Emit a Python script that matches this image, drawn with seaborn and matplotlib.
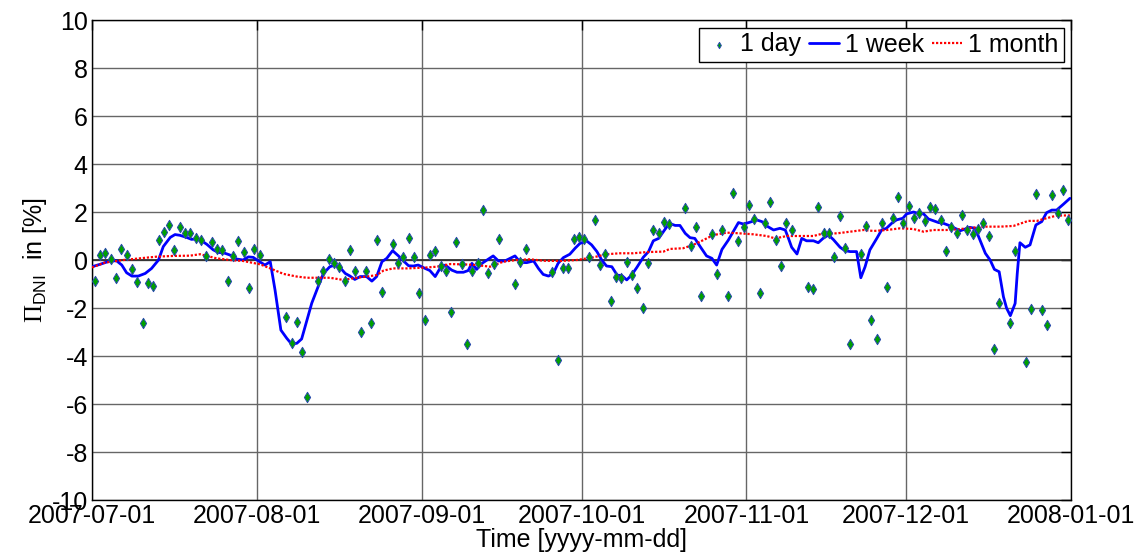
import numpy as np
import pandas as pd
import seaborn as sns
import matplotlib
matplotlib.use('Agg')
import matplotlib.pyplot as plt
import matplotlib.dates as mdates

# 일별 값 (2007-07-01 기준 경과일, 결측일 제외)
day_idx = [0, 1, 2, 3, 4, 5, 6, 7, 8, 9, 10, 11, 12, 13, 14, 15, 16, 17, 18, 19,
           20, 21, 22, 23, 24, 25, 26, 27, 28, 29, 30, 31,
           36, 37, 38, 39, 40,
           42, 43, 44, 45, 46, 47, 48, 49, 50, 51, 52, 53, 54,
           56, 57, 58, 59, 60, 61, 62, 63, 64, 65, 66, 67, 68, 69, 70, 71, 72, 73, 74, 75, 76,
           79, 80, 81,
           86, 87, 88, 89, 90, 91, 92, 93, 94, 95, 96, 97, 98, 99, 100, 101, 102, 103, 104,
           105, 106, 107, 108,
           111, 112, 113, 114,
           116, 117, 118, 119, 120, 121, 122, 123, 124, 125, 126, 127, 128, 129, 130, 131,
           134, 135, 136, 137, 138, 139, 140, 141, 142,
           144, 145, 146, 147, 148, 149, 150, 151, 152, 153, 154, 155, 156, 157, 158, 159,
           160, 161, 162, 163, 164, 165, 166, 167, 168, 169, 170,
           172, 173,
           175, 176, 177, 178, 179, 180, 181, 182, 183]
day_val = [-0.88, 0.21, 0.30, 0.04, -0.76, 0.46, 0.21, -0.39, -0.90, -2.63, -0.94, -1.08,
           0.83, 1.17, 1.44, 0.42, 1.37, 1.14, 1.11, 0.90, 0.83, 0.17, 0.74, 0.47, 0.40,
           -0.89, 0.15, 0.78, 0.33, -1.15, 0.46, 0.19,
           -2.36, -3.44, -2.60, -3.85, -5.69,
           -0.88, -0.44, 0.04, -0.13, -0.28, -0.88, 0.40, -0.46, -3.00, -0.44, -2.64, 0.83, -1.32,
           0.67, -0.11, 0.11, 0.92, 0.13, -1.39, -2.49, 0.19, 0.39, -0.25, -0.47, -2.18, 0.76,
           -0.18, -3.49, -0.46, -0.14, 2.07, -0.53, -0.18, 0.86,
           -0.99, -0.10, 0.46,
           -0.50, -4.18, -0.32, -0.35, 0.86, 0.97, 0.88, 0.14, 1.68, -0.21, 0.24, -1.69, -0.71,
           -0.76, -0.07, -0.61, -1.18, -2.00, -0.11, 1.25, 1.14, 1.57, 1.50,
           2.18, 0.60, 1.39, -1.49,
           1.08, -0.58, 1.25, -1.49, 2.80, 0.79, 1.37, 2.29, 1.72, -1.36, 1.56, 2.40, 0.83,
           -0.26, 1.56, 1.25,
           -1.11, -1.19, 2.19, 1.11, 1.11, 0.14, 1.85, 0.50, -3.49,
           0.26, 1.40, -2.49, -3.29, 1.53, -1.13, 1.76, 2.64, 1.56, 2.25, 1.75, 1.97, 1.61,
           2.22, 2.13, 1.67, 0.39, 1.39, 1.13, 1.86, 1.24, 1.10, 1.29, 1.53, 1.01, -3.71, -1.79,
           -2.61, 0.38,
           -4.26, -2.03, 2.74, -2.10, -2.71, 2.72, 1.94, 2.90, 1.65]

# 1주 이동평균
week_day = [0, 1.5, 3.4, 4.6, 5.6, 6.5, 7.5, 8.7, 10, 11.2, 12.5, 13.4, 14.7, 15.6, 16.5,
            17.8, 18.7, 19.7, 20.6, 21.6, 22.8, 23.7, 25, 25.9, 27.2, 28.4, 29.4, 30.3, 31,
            32.5, 33.5, 34.4, 35.5, 36.6, 37.5, 38.5, 39.4, 40.4, 41.3, 42.5, 43.5, 44.7,
            45.7, 46.6, 47.6, 48.5, 49.4, 50.4, 51.6, 52.6, 53.5, 54.5, 55.4, 56.5, 57.6,
            58.5, 59.5, 60.4, 61.3, 62.6, 63.5, 64.5, 65.4, 66.4, 67.6, 68.6, 69.8, 70.7,
            71.4, 72.3, 73.3, 74.5, 75.4, 76.4, 77.6, 78.6, 79.5, 80.5, 81.7, 83, 83.9, 84.8,
            85.8, 86.7, 87.6, 88.6, 89.8, 90.8, 91.7, 93, 93.9, 94.9, 95.8, 96.7, 97.7, 98.7,
            99.6, 100.5, 101.4, 102.4, 103.6, 104.6, 105.5, 106.5, 107.4, 108.5, 109.6,
            110.5, 111.5, 112.4, 113.3, 114.3, 115.5, 116.5, 117.4, 118.4, 119.6, 120.5,
            121.5, 122.4, 123.3, 124, 124.9, 125.9, 126.8, 128.1, 129.3, 130.3, 130.9, 131.5,
            132.5, 133.4, 134.3, 135.6, 136.5, 137.4, 138.4, 139.3, 140.6, 141.5, 142.5,
            143.7, 144.5, 145.3, 146.2, 147.5, 148.4, 149.3, 150.3, 151.2, 152.4, 153.1,
            154.4, 155.3, 156.3, 157.2, 158.1, 159.1, 160, 161.3, 162.2, 163.2, 164.1, 165,
            166, 166.9, 167.9, 168.8, 169.6, 170.5, 171.3, 171.9, 172.6, 173.5, 173.9, 174.4,
            175.4, 176.3, 177.4, 178.5, 179.4, 180.4, 181.3, 182.6, 183.8]
week_val = [-0.28, -0.18, -0.04, -0.03, -0.21, -0.53, -0.67, -0.67, -0.56, -0.35, 0.0, 0.56,
            0.94, 1.06, 1.03, 0.94, 0.86, 0.88, 0.80, 0.65, 0.42, 0.32, 0.28, 0.21, 0.04, 0.0,
            0.13, 0.11, 0.0,
            -0.21, -0.07, -1.25, -2.92, -3.26, -3.50, -3.47, -3.29, -2.50, -1.80, -1.11, -0.56,
            -0.28, -0.21, -0.31, -0.56, -0.67, -0.81, -0.69, -0.69, -0.88, -0.69, -0.07, 0.07,
            0.39, 0.17, -0.03, -0.24, -0.25, -0.21, -0.35, -0.44, -0.69, -0.35, -0.21, -0.42,
            -0.51, -0.51, -0.44, -0.14, -0.39, -0.14, 0.04, 0.17, -0.04, -0.04, 0.07, 0.17,
            -0.10, -0.11, -0.04, -0.35, -0.60, -0.67, -0.56, -0.14, 0.10, 0.24, 0.49, 0.69,
            0.79, 0.63, 0.35, 0.0, -0.25, -0.28, -0.63, -0.65, -0.83, -0.63, -0.31, 0.11, 0.35,
            0.80, 0.90, 1.18, 1.53, 1.44, 1.44, 1.11, 0.93, 0.90, 0.56, 0.17, 0.07, -0.21,
            0.44, 0.83, 1.18, 1.56, 1.50, 1.55, 1.60, 1.67, 1.60, 1.42, 1.25, 1.32, 1.25, 0.90,
            0.53, 0.25, 0.90, 0.80, 0.80, 0.72, 0.90, 1.04, 0.86, 0.53, 0.39, 0.35, 0.35, -0.74,
            -0.28, 0.42, 0.90, 1.25, 1.32, 1.53, 1.67, 1.74, 1.92, 2.00, 1.94, 1.92, 1.71, 1.64,
            1.56, 1.53, 1.42, 1.32, 1.22, 1.29, 1.36, 1.32, 0.83, 0.28, 0.0, -0.39, -0.49,
            -1.53, -2.01, -2.32, -1.81, -0.56, 0.72, 0.53, 0.63, 1.46, 1.60, 1.97, 2.08, 2.08,
            2.33, 2.57]

# 1달 이동평균
month_day = [0, 2.4, 5.9, 9, 12.2, 15.3, 18.4, 20.3, 21.6, 23.4, 25.9, 28.4, 31.6, 33.5, 36,
             38.5, 40.4, 42.2, 44.7, 47.2, 49.1, 51.6, 53.5, 54.8, 56.6, 59.2, 62.3, 64.8,
             67.3, 69.8, 72.3, 74.8, 77.3, 79.8, 82.3, 84.8, 88, 91.1, 94.2, 96.7, 99.2,
             101.7, 104.3, 107.4, 108.6, 111.1, 113, 114.9, 116.8, 119.3, 121.8, 124.3, 126.8,
             128.4, 130.6, 133.1, 135.6, 137.5, 140, 142.5, 145, 146.9, 149.4, 151.9, 154.4,
             156.3, 158.1, 160.6, 163.2, 165.7, 168.2, 170.7, 173.2, 176, 177.6, 179.4, 181.3,
             183.8]
month_val = [-0.31, -0.11, 0.0, 0.07, 0.14, 0.17, 0.18, 0.24, 0.17, 0.07, 0.0, -0.04, -0.18,
             -0.35, -0.58, -0.69, -0.74, -0.74, -0.74, -0.83, -0.76, -0.69, -0.63, -0.44,
             -0.35, -0.35, -0.32, -0.28, -0.17, -0.18, -0.21, -0.28, -0.07, 0.0, 0.03, -0.03,
             -0.04, 0.0, 0.11, 0.24, 0.28, 0.28, 0.33, 0.35, 0.46, 0.49, 0.63, 0.83, 1.04, 1.14,
             1.11, 1.07, 1.0, 0.90, 1.0, 1.0, 1.0, 1.11, 1.11, 1.18, 1.25, 1.21, 1.25, 1.32,
             1.29, 1.18, 1.25, 1.25, 1.29, 1.35, 1.39, 1.39, 1.42, 1.63, 1.63, 1.74, 1.85, 1.86]

start = pd.Timestamp('2007-07-01')
df_day = pd.DataFrame({'time': start + pd.to_timedelta(np.array(day_idx) + 0.5, unit='D'),
                       'val': day_val})
df_week = pd.DataFrame({'time': start + pd.to_timedelta(week_day, unit='D'), 'val': week_val})
df_month = pd.DataFrame({'time': start + pd.to_timedelta(month_day, unit='D'), 'val': month_val})

sns.set_style('white')
plt.rcParams['font.family'] = ['Liberation Sans', 'DejaVu Sans']
plt.rcParams['axes.unicode_minus'] = False
plt.rcParams['text.color'] = 'black'
plt.rcParams['axes.labelcolor'] = 'black'
plt.rcParams['xtick.color'] = 'black'
plt.rcParams['ytick.color'] = 'black'
plt.rcParams['mathtext.fontset'] = 'custom'
plt.rcParams['mathtext.rm'] = 'Liberation Serif'
plt.rcParams['mathtext.sf'] = 'Liberation Sans'

fig = plt.figure(figsize=(11.46, 5.56), dpi=100)
ax = fig.add_axes([92 / 1146, 1 - 500 / 556, (1071 - 92) / 1146, 480 / 556])

ax.axhline(0, color='#303030', lw=1.3, zorder=1)
sns.scatterplot(data=df_day, x='time', y='val', marker='d', s=28, color='#00a000',
                edgecolor='#2848b0', linewidth=0.7, label='1 day', ax=ax, zorder=4)
sns.lineplot(data=df_week, x='time', y='val', color='#0000ff', lw=2, label='1 week',
             ax=ax, zorder=3)
sns.lineplot(data=df_month, x='time', y='val', color='#ff0000', lw=1.6,
             linestyle=(0, (1, 0.8)), label='1 month', ax=ax, zorder=3)

ax.set_xlim(pd.Timestamp('2007-07-01'), pd.Timestamp('2008-01-01'))
ax.set_ylim(-10, 10)
ax.set_yticks(range(-10, 11, 2))
ax.xaxis.set_major_locator(mdates.MonthLocator())
ax.xaxis.set_major_formatter(mdates.DateFormatter('%Y-%m-%d'))
ax.grid(True, color='#666666', lw=1, zorder=0)
ax.tick_params(direction='in', length=7, width=1, labelsize=18, top=True, right=True, pad=3)
for s in ax.spines.values():
    s.set_color('black')
    s.set_linewidth(1)

ax.set_xlabel('Time [yyyy-mm-dd]', fontsize=18, labelpad=0)
ax.set_ylabel(r'$\Pi_{\mathsf{DNI}}$  in [%]', fontsize=18, labelpad=2)

leg = ax.legend(loc='upper right', ncol=3, fontsize=18, frameon=True, fancybox=False,
                edgecolor='black', framealpha=1, handlelength=1.2, handletextpad=0.25,
                columnspacing=0.3, borderpad=0.2, borderaxespad=0.3, markerscale=0.6)
leg.get_frame().set_linewidth(1)

fig.savefig('out.png', dpi=100)
